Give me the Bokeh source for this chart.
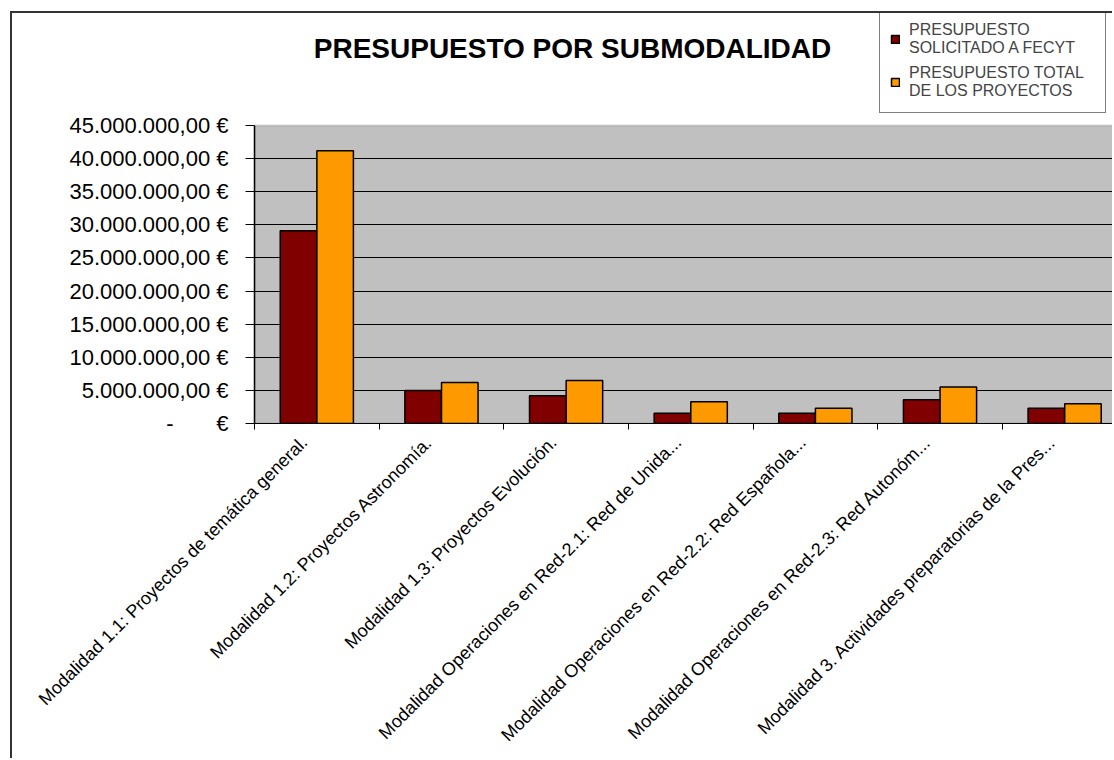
from bokeh.plotting import figure
from bokeh.models import Range1d, FixedTicker, Label, Legend, LegendItem, BoxAnnotation
from bokeh.embed import file_html
from bokeh.resources import INLINE
import math

# ---------------- data ----------------
categories = [
    "Modalidad 1.1: Proyectos de temática general.",
    "Modalidad 1.2: Proyectos Astronomía.",
    "Modalidad 1.3: Proyectos Evolución.",
    "Modalidad Operaciones en Red-2.1: Red de Unida...",
    "Modalidad Operaciones en Red-2.2: Red Española...",
    "Modalidad Operaciones en Red-2.3: Red Autonóm...",
    "Modalidad 3. Actividades preparatorias de la Pres...",
]
solicitado = [29100000, 5000000, 4200000, 1550000, 1550000, 3600000, 2300000]
total = [41200000, 6200000, 6500000, 3300000, 2300000, 5500000, 3000000]
series_names = ["PRESUPUESTO\nSOLICITADO A FECYT", "PRESUPUESTO TOTAL\nDE LOS PROYECTOS"]
series_colors = ["#800000", "#FF9900"]
y_ticks = [0, 5000000, 10000000, 15000000, 20000000, 25000000, 30000000, 35000000, 40000000, 45000000]
y_max = 45000000
title_text = "PRESUPUESTO POR SUBMODALIDAD"

FONT = "Liberation Sans"

def eur(v):
    if v == 0:
        return "-\u00a0\u00a0\u00a0\u00a0\u00a0\u00a0\u00a0€"
    s = f"{v:,.2f}".replace(",", "X").replace(".", ",").replace("X", ".")
    return s + " €"

n = len(categories)
centers = [i + 0.5 for i in range(n)]
label_pos = [c - 0.1 for c in centers]   # rotated labels end slightly left of centre
off = 0.147
bw = 0.293

# layout geometry (pixels)
W, H = 1102, 747
frame_h = 410          # frame spans whole upper area so title/legend are inside it
plot_h = 298           # height of grey plotting area (0 .. y_max)
y_end = y_max * frame_h / plot_h

p = figure(width=W, height=H, output_backend="svg", toolbar_location=None,
           x_range=Range1d(0, 6.9), y_range=Range1d(0, y_end),
           min_border_left=242, min_border_right=0, min_border_top=0,
           min_border_bottom=H - frame_h)
p.styles = {"margin-left": "10px", "margin-top": "11px",
            "border-left": "2px solid #333333", "border-top": "2px solid #333333"}
p.title.visible = False
p.background_fill_color = "white"
p.border_fill_color = "white"
p.outline_line_color = None

# grey plot area
p.add_layout(BoxAnnotation(left=0, right=n, bottom=0, top=y_max,
                           fill_color="#C0C0C0", fill_alpha=1,
                           line_color="#808080", line_width=2, level="image"))

r1 = p.vbar(x=[c - off for c in centers], top=solicitado, width=bw, bottom=0,
            fill_color=series_colors[0], line_color="black", line_width=1.5)
r2 = p.vbar(x=[c + off for c in centers], top=total, width=bw, bottom=0,
            fill_color=series_colors[1], line_color="black", line_width=1.5)

# grid
p.xgrid.visible = False
p.ygrid.ticker = FixedTicker(ticks=y_ticks[1:-1])
p.ygrid.grid_line_color = "#000000"
p.ygrid.grid_line_width = 1

# x axis
xa = p.xaxis[0]
xa.ticker = FixedTicker(ticks=label_pos, minor_ticks=list(range(n + 1)))
xa.major_label_overrides = {c: lab for c, lab in zip(label_pos, categories)}
xa.major_label_orientation = math.pi / 4
xa.major_tick_line_color = None
xa.major_tick_out = 0
xa.major_tick_in = 0
xa.minor_tick_line_color = "black"
xa.minor_tick_out = 6
xa.minor_tick_in = 0
xa.axis_line_color = "black"
xa.major_label_standoff = 10
xa.major_label_text_font = FONT
xa.major_label_text_font_size = "18px"
xa.major_label_text_color = "black"

# y axis
ya = p.yaxis[0]
ya.bounds = (0, y_max)
ya.ticker = FixedTicker(ticks=y_ticks)
ya.major_label_overrides = {t: eur(t) for t in y_ticks}
ya.major_tick_out = 9
ya.major_tick_in = 0
ya.minor_tick_line_color = None
ya.axis_line_color = "black"
ya.axis_line_width = 1.5
ya.major_tick_line_color = "black"
ya.major_label_standoff = 17
ya.major_label_text_font = FONT
ya.major_label_text_font_size = "22px"
ya.major_label_text_color = "black"

# title
p.add_layout(Label(x=318, y=375, x_units="screen", y_units="screen", text=title_text,
                   text_align="center", text_baseline="middle", text_font=FONT,
                   text_font_size="28px", text_font_style="bold", text_color="black"))

# legend
legend = Legend(items=[LegendItem(label=series_names[0], renderers=[r1]),
                       LegendItem(label=series_names[1], renderers=[r2])],
                location=(625, 310))
legend.border_line_color = "black"
legend.border_line_width = 1
legend.background_fill_color = "white"
legend.background_fill_alpha = 1
legend.label_text_font = FONT
legend.label_text_font_size = "16px"
legend.label_text_line_height = 1.3
legend.label_width = 186
legend.label_height = 40
legend.glyph_width = 10
legend.glyph_height = 10
legend.label_standoff = 9
legend.padding = 10
legend.spacing = 3
legend.margin = 0
p.add_layout(legend, "center")

open("out.html", "w").write(file_html(p, INLINE))
